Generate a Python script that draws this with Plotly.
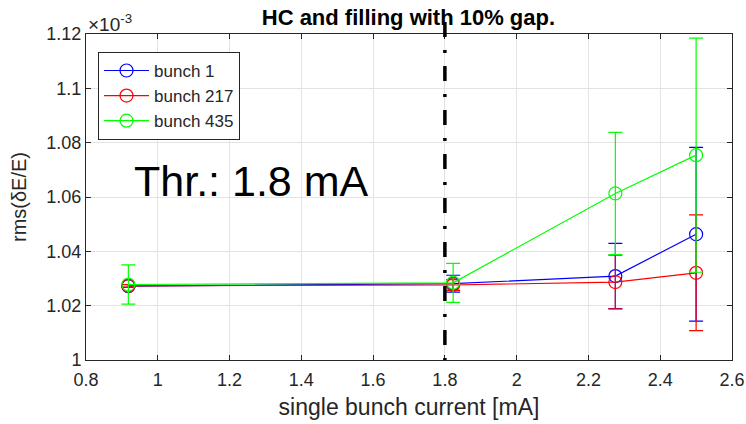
import plotly.graph_objects as go

# ---- data (rms(dE/E) in units of 1e-3) ----
current = [0.918, 1.823, 2.275, 2.5]
bunch1 = [1.0272, 1.0281, 1.0309, 1.0463]
bunch1_err = [0.0005, 0.0031, 0.0120, 0.0320]
bunch217 = [1.0273, 1.0276, 1.0287, 1.0321]
bunch217_err = [0.0005, 0.0020, 0.0099, 0.0213]
bunch435 = [1.0278, 1.0284, 1.0613, 1.0754]
bunch435_err = [0.0072, 0.0072, 0.0225, 0.0431]
names = ["bunch 1", "bunch 217", "bunch 435"]
colors = ["#0000FF", "#FF0000", "#00FF00"]
threshold = 1.8
x_range = [0.8, 2.6]
y_range = [1.0, 1.12]

FONT = "Liberation Sans, Arial, Helvetica, sans-serif"
AX = "#262626"

fig = go.Figure()
for name, ys, es, c in zip(names, [bunch1, bunch217, bunch435],
                           [bunch1_err, bunch217_err, bunch435_err], colors):
    fig.add_trace(go.Scatter(
        x=current, y=ys, name=name, mode="lines+markers",
        line=dict(color=c, width=1.2),
        marker=dict(symbol="circle-open", size=13, color=c, line=dict(width=1.2, color=c)),
        error_y=dict(type="data", array=es, visible=True, color=c, thickness=1.2, width=7),
    ))

# threshold line (dash-dot), extends slightly above the axes like the original
fx = (threshold - x_range[0]) / (x_range[1] - x_range[0])
fig.add_shape(type="line", xref="x domain", yref="y domain",
              x0=fx, x1=fx, y0=1.037, y1=0.0,
              line=dict(color="black", width=3.5, dash="15px,13px,3px,13px"))

fig.add_annotation(x=1.262, y=1.066, xref="x", yref="y", text="Thr.: 1.8 mA",
                   showarrow=False, font=dict(family=FONT, size=43, color="black"))
fig.add_annotation(x=0, y=1.0, xref="paper", yref="paper", xanchor="left", yanchor="bottom",
                   text="×10<sup>-3</sup>", showarrow=False, yshift=-3,
                   font=dict(family=FONT, size=19, color=AX))

axis_common = dict(showline=True, linecolor=AX, linewidth=1, mirror="ticks",
                   ticks="inside", ticklen=5, tickcolor=AX, showgrid=True,
                   gridcolor="#E3E3E3", gridwidth=1, zeroline=False, automargin=False,
                   tickfont=dict(family=FONT, size=18, color=AX))

fig.update_xaxes(range=x_range, dtick=0.2, tick0=0.8, ticklabelstandoff=3,
                 title=dict(text="single bunch current [mA]", font=dict(family=FONT, size=23, color=AX), standoff=10),
                 **axis_common)
fig.update_yaxes(range=y_range, dtick=0.02, tick0=1.0,
                 title=dict(text="rms(δE/E)", font=dict(family=FONT, size=20, color=AX), standoff=14),
                 **axis_common)

fig.update_layout(
    width=746, height=424,
    margin=dict(l=86, r=14, t=34, b=64),
    paper_bgcolor="white", plot_bgcolor="white",
    title=dict(text="<b>HC and filling with 10% gap.</b>", x=0.5475, xanchor="center",
               y=0.96, yanchor="middle", font=dict(family=FONT, size=22, color="black")),
    legend=dict(x=0.0186, y=0.945, xanchor="left", yanchor="top",
                bgcolor="white", bordercolor=AX, borderwidth=1, itemwidth=45,
                font=dict(family=FONT, size=17, color=AX), tracegroupgap=0),
    showlegend=True,
)

fig.write_html("out.html")
